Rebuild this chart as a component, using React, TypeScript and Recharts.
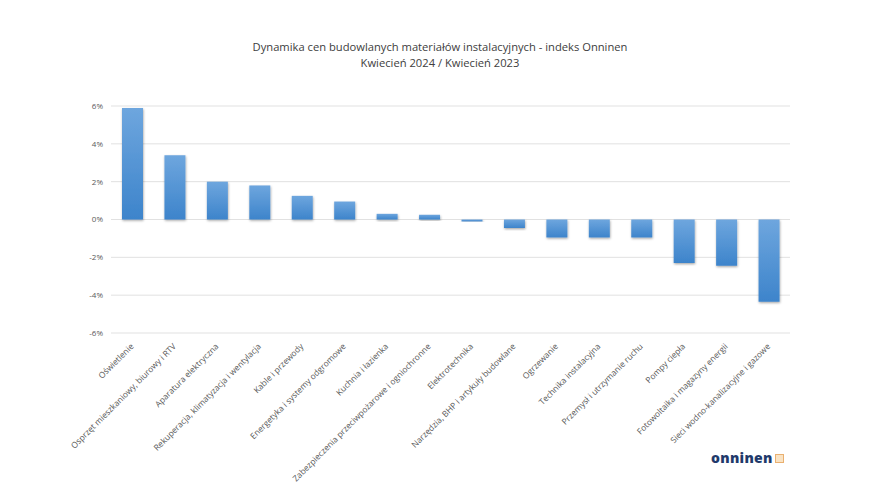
import React from 'react';
import { BarChart, Bar, XAxis, YAxis, CartesianGrid, Rectangle } from 'recharts';

const categories = [
  'Oświetlenie',
  'Osprzęt mieszkaniowy, biurowy i RTV',
  'Aparatura elektryczna',
  'Rekuperacja, klimatyzacja i wentylacja',
  'Kable i przewody',
  'Energetyka i systemy odgromowe',
  'Kuchnia i łazienka',
  'Zabezpieczenia przeciwpożarowe i ogniochronne',
  'Elektrotechnika',
  'Narzędzia, BHP i artykuły budowlane',
  'Ogrzewanie',
  'Technika instalacyjna',
  'Przemysł i utrzymanie ruchu',
  'Pompy ciepła',
  'Fotowoltaika i magazyny energii',
  'Sieci wodno-kanalizacyjne i gazowe',
];

const changes = [5.9, 3.4, 2.0, 1.8, 1.25, 0.95, 0.3, 0.25, -0.1, -0.45, -0.95, -0.95, -0.95, -2.3, -2.45, -4.35];

const yTicks = [-6, -4, -2, 0, 2, 4, 6];

const data = categories.map((name, i) => ({ name, value: changes[i] }));

const FONT = '"Open Sans", "DejaVu Sans", sans-serif';

function AngledTick(props: any) {
  const { x, y, payload } = props;
  return (
    <text
      x={x + 2}
      y={y + 6}
      transform={`rotate(-45, ${x + 2}, ${y + 6})`}
      textAnchor="end"
      fontSize={8.4}
      fill="#595959"
      fontFamily={FONT}
    >
      {payload.value}
    </text>
  );
}

function ShadowBar(props: any) {
  return <Rectangle {...props} fill="url(#barGrad)" filter="url(#barShadow)" />;
}

export default function App() {
  return (
    <div style={{ position: 'absolute', left: 0, top: 0, width: 880, height: 495, background: '#fff' }}>
      <svg width={0} height={0} style={{ position: 'absolute' }}>
        <defs>
          <linearGradient id="barGrad" x1="0" y1="0" x2="0" y2="1">
            <stop offset="0%" stopColor="#6ea6de" />
            <stop offset="100%" stopColor="#3d84cb" />
          </linearGradient>
          <filter id="barShadow" x="-30%" y="-30%" width="160%" height="160%">
            <feDropShadow dx="0.5" dy="1.2" stdDeviation="0.9" floodColor="#000" floodOpacity="0.35" />
          </filter>
        </defs>
      </svg>
      <div
        style={{
          position: 'absolute',
          top: 39,
          left: 0,
          width: 880,
          textAlign: 'center',
          fontFamily: FONT,
          fontSize: 11.2,
          lineHeight: '16px',
          color: '#404040',
        }}
      >
        Dynamika cen budowlanych materiałów instalacyjnych - indeks Onninen
        <br />
        Kwiecień 2024 / Kwiecień 2023
      </div>
      <BarChart
        width={880}
        height={495}
        data={data}
        margin={{ top: 106, right: 90, left: 0, bottom: 42 }}
      >
        <CartesianGrid vertical={false} stroke="#d9d9d9" strokeWidth={0.8} />
        <XAxis
          dataKey="name"
          interval={0}
          axisLine={false}
          tickLine={false}
          height={120}
          tick={<AngledTick />}
        />
        <YAxis
          width={111}
          domain={[-6, 6]}
          ticks={yTicks}
          axisLine={false}
          tickLine={false}
          tickFormatter={(v: number) => `${v}%`}
          tick={{ fontSize: 8, fill: '#595959', fontFamily: FONT }}
          tickMargin={2}
        />
        <Bar dataKey="value" barSize={21} shape={<ShadowBar />} isAnimationActive={false} />
      </BarChart>
      <div
        style={{
          position: 'absolute',
          left: 711,
          top: 448,
          fontFamily: FONT,
          fontWeight: 800,
          fontSize: 14,
          color: '#1f3a6b',
          letterSpacing: 0.3,
        }}
      >
        onninen
        <span
          style={{
            display: 'inline-block',
            width: 7,
            height: 7,
            marginLeft: 2,
            border: '1.5px solid #eab070',
            background: '#f9e3c4',
            verticalAlign: 'baseline',
          }}
        />
      </div>
    </div>
  );
}
